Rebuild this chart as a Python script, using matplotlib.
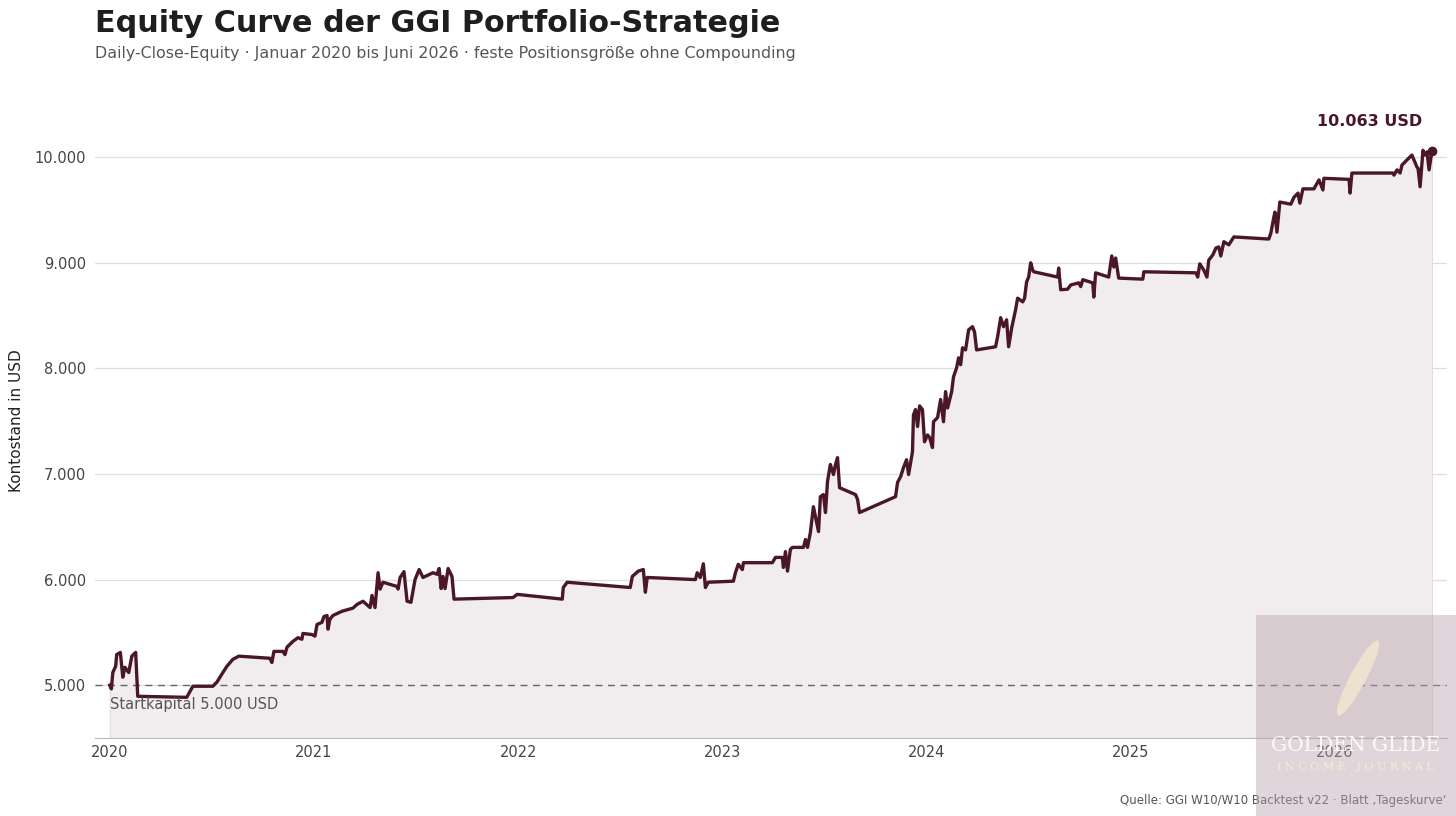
import matplotlib
matplotlib.use('Agg')
import matplotlib.pyplot as plt
from matplotlib.ticker import FuncFormatter
from matplotlib.patches import Rectangle, Ellipse
import numpy as np

# equity curve (decimal year, USD)
t_2020 = [2020.000, 2020.008, 2020.015, 2020.029, 2020.034, 2020.052, 2020.064, 2020.074,
          2020.093, 2020.108, 2020.127, 2020.137, 2020.377, 2020.407, 2020.505, 2020.525,
          2020.549, 2020.574, 2020.603, 2020.632, 2020.784, 2020.794, 2020.804, 2020.848,
          2020.858, 2020.868, 2020.897, 2020.922, 2020.941, 2020.946, 2020.990]
eq_2020 = [5000, 4965, 5120, 5180, 5290, 5310, 5075, 5170,
           5120, 5275, 5310, 4895, 4885, 4990, 4990, 5030,
           5105, 5180, 5245, 5275, 5255, 5215, 5320, 5320,
           5290, 5360, 5415, 5450, 5435, 5490, 5480]

t_2021 = [2021.005, 2021.015, 2021.039, 2021.049, 2021.064, 2021.069, 2021.078, 2021.093,
          2021.137, 2021.191, 2021.211, 2021.240, 2021.275, 2021.284, 2021.299, 2021.314,
          2021.324, 2021.338, 2021.407, 2021.412, 2021.422, 2021.441, 2021.456, 2021.475,
          2021.495, 2021.515, 2021.534, 2021.583, 2021.603, 2021.613, 2021.623, 2021.632,
          2021.642, 2021.657, 2021.676, 2021.686, 2021.975, 2021.995]
eq_2021 = [5465, 5575, 5595, 5650, 5660, 5530, 5625, 5660,
           5700, 5730, 5765, 5795, 5735, 5850, 5735, 6065,
           5910, 5975, 5935, 5910, 6020, 6075, 5795, 5785,
           6000, 6095, 6020, 6065, 6050, 6105, 5915, 6030,
           5915, 6105, 6030, 5815, 5830, 5860]

t_2022 = [2022.216, 2022.221, 2022.240, 2022.549, 2022.559, 2022.588, 2022.613, 2022.623,
          2022.632, 2022.868, 2022.877, 2022.892, 2022.907, 2022.917, 2022.931]
eq_2022 = [5815, 5925, 5975, 5925, 6030, 6080, 6095, 5880,
           6020, 6000, 6065, 6020, 6150, 5925, 5975]

t_2023 = [2023.054, 2023.064, 2023.078, 2023.098, 2023.103, 2023.245, 2023.260, 2023.294,
          2023.299, 2023.309, 2023.319, 2023.333, 2023.343, 2023.397, 2023.407, 2023.417,
          2023.431, 2023.446, 2023.456, 2023.471, 2023.480, 2023.495, 2023.505, 2023.515,
          2023.529, 2023.544, 2023.554, 2023.564, 2023.574, 2023.652, 2023.662, 2023.672,
          2023.848, 2023.858, 2023.873, 2023.887, 2023.902, 2023.912, 2023.931, 2023.936,
          2023.946, 2023.956, 2023.966, 2023.980, 2023.990]
eq_2023 = [5985, 6065, 6145, 6095, 6160, 6160, 6210, 6210,
           6115, 6265, 6080, 6285, 6305, 6305, 6380, 6305,
           6445, 6690, 6595, 6455, 6785, 6805, 6635, 6930,
           7090, 6995, 7090, 7155, 6870, 6805, 6760, 6635,
           6785, 6920, 6975, 7060, 7135, 6995, 7210, 7560,
           7610, 7450, 7645, 7610, 7305]

t_2024 = [2024.005, 2024.015, 2024.029, 2024.034, 2024.054, 2024.069, 2024.083, 2024.093,
          2024.103, 2024.123, 2024.132, 2024.147, 2024.157, 2024.167, 2024.176, 2024.191,
          2024.206, 2024.225, 2024.235, 2024.245, 2024.338, 2024.348, 2024.363, 2024.377,
          2024.392, 2024.402, 2024.417, 2024.436, 2024.446, 2024.471, 2024.480, 2024.490,
          2024.500, 2024.510, 2024.520, 2024.525, 2024.642, 2024.647, 2024.657, 2024.691,
          2024.706, 2024.745, 2024.755, 2024.765, 2024.814, 2024.819, 2024.828, 2024.892,
          2024.907, 2024.917, 2024.926, 2024.941]
eq_2024 = [7370, 7345, 7250, 7495, 7535, 7705, 7495, 7780,
           7625, 7780, 7920, 8005, 8100, 8035, 8195, 8175,
           8365, 8395, 8345, 8175, 8205, 8300, 8480, 8395,
           8460, 8205, 8385, 8555, 8665, 8630, 8665, 8820,
           8865, 9000, 8930, 8915, 8865, 8950, 8745, 8750,
           8790, 8810, 8775, 8840, 8810, 8675, 8905, 8865,
           9065, 8960, 9045, 8855]

t_2025 = [2025.059, 2025.064, 2025.319, 2025.328, 2025.338, 2025.358, 2025.373, 2025.382,
          2025.402, 2025.417, 2025.431, 2025.441, 2025.456, 2025.480, 2025.505, 2025.676,
          2025.686, 2025.701, 2025.706, 2025.716, 2025.730, 2025.784, 2025.799, 2025.819,
          2025.828, 2025.843, 2025.897, 2025.907, 2025.922, 2025.941, 2025.946]
eq_2025 = [8845, 8915, 8905, 8865, 8990, 8930, 8865, 9025,
           9075, 9140, 9150, 9065, 9200, 9170, 9245, 9225,
           9280, 9435, 9480, 9290, 9575, 9555, 9620, 9660,
           9565, 9700, 9700, 9735, 9785, 9690, 9800]

t_2026 = [2026.069, 2026.074, 2026.083, 2026.284, 2026.289, 2026.304, 2026.319, 2026.328,
          2026.338, 2026.353, 2026.377, 2026.402, 2026.407, 2026.417, 2026.431, 2026.441,
          2026.451, 2026.461, 2026.475]
eq_2026 = [9790, 9660, 9850, 9850, 9830, 9880, 9850, 9925,
           9945, 9975, 10020, 9905, 9895, 9720, 10065, 10020,
           10050, 9880, 10063]

start_capital = 5000
year_ticks = [2020, 2021, 2022, 2023, 2024, 2025, 2026]
y_ticks = [5000, 6000, 7000, 8000, 9000, 10000]

t = np.array(t_2020 + t_2021 + t_2022 + t_2023 + t_2024 + t_2025 + t_2026)
eq = np.array(eq_2020 + eq_2021 + eq_2022 + eq_2023 + eq_2024 + eq_2025 + eq_2026)

maroon = '#4a1726'

fig = plt.figure(figsize=(14.56, 8.16), dpi=100)
ax = fig.add_axes([0.065, 0.0956, 0.929, 0.770])

ax.fill_between(t, eq, 4500, color='#f1ecee', edgecolor='#e2dcdf', lw=0.8, zorder=1)
ax.plot(t, eq, color=maroon, lw=2.4, solid_joinstyle='round', zorder=3)
ax.plot(t[-1], eq[-1], 'o', color=maroon, ms=6, zorder=4)
ax.axhline(start_capital, color='#666666', lw=1, ls=(0, (5, 4)), zorder=2)
ax.text(2020.0, 4820, 'Startkapital 5.000 USD', color='#555555', fontsize=10.5,
        va='center', ha='left', zorder=5)
ax.annotate('10.063 USD', xy=(t[-1], eq[-1]), xytext=(-45, 21), textcoords='offset points',
            ha='center', va='center', fontsize=11.5, fontweight='bold', color=maroon)

ax.set_xlim(2019.926, 2026.55)
ax.set_ylim(4500, 10450)
ax.set_xticks(year_ticks)
ax.set_xticklabels([str(y) for y in year_ticks])
ax.set_yticks(y_ticks)
ax.yaxis.set_major_formatter(FuncFormatter(lambda v, p: f'{int(v):,}'.replace(',', '.')))
ax.grid(axis='y', color='#dddddd', lw=0.9, zorder=0)
ax.set_axisbelow(True)
for s in ['top', 'right', 'left']:
    ax.spines[s].set_visible(False)
ax.spines['bottom'].set_color('#bbbbbb')
ax.tick_params(axis='both', length=0, labelsize=10.5, labelcolor='#444444')
ax.tick_params(axis='y', pad=6)
ax.tick_params(axis='x', pad=5)

fig.text(0.0652, 0.989, 'Equity Curve der GGI Portfolio-Strategie', fontsize=21.8,
         fontweight='bold', color='#1e1e1e', va='top', ha='left')
fig.text(0.0652, 0.944, 'Daily-Close-Equity · Januar 2020 bis Juni 2026 · feste Positionsgröße ohne Compounding',
         fontsize=11.4, color='#555555', va='top', ha='left')
fig.text(0.011, 0.484, 'Kontostand in USD', rotation=90, fontsize=11, color='#222222',
         va='center', ha='center')
fig.text(0.9938, 0.0196, 'Quelle: GGI W10/W10 Backtest v22 · Blatt \u201aTageskurve\u2018',
         fontsize=8.5, color='#555555', ha='right', va='center')

# watermark logo
fig.patches.append(Rectangle((0.8626, 0.0), 0.1374, 0.2463, transform=fig.transFigure,
                             facecolor='#b9a3ad', alpha=0.45, edgecolor='none', zorder=10))
fig.patches.append(Ellipse((13.58, 1.38), 0.16, 0.85, angle=-28, transform=fig.dpi_scale_trans,
                           facecolor='#efe3cf', edgecolor='none', alpha=0.95, zorder=11))
fig.text(0.931, 0.0858, 'GOLDEN GLIDE', family='DejaVu Serif', fontsize=14.5, color='white',
         alpha=0.9, ha='center', va='center', zorder=12)
fig.text(0.931, 0.0600, 'I N C O M E   J O U R N A L', family='DejaVu Serif', fontsize=8,
         color='#f6eccb', ha='center', va='center', zorder=12)

fig.savefig('out.png', dpi=100)
